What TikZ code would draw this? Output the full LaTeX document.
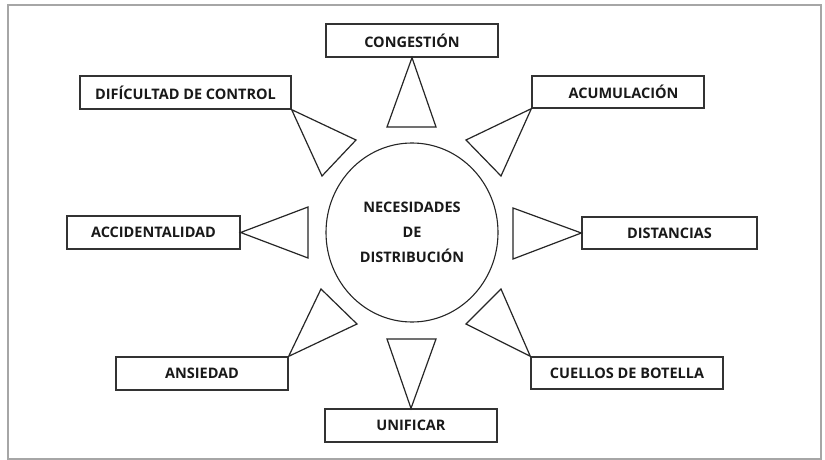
\documentclass[tikz,border=0pt]{standalone}
\usepackage{fontspec}
\setmainfont{Open Sans}
\usetikzlibrary{shapes.geometric}
\begin{document}
\begin{tikzpicture}[x=1pt,y=-1pt,
  lbl/.style={draw=black!80,line width=1.3pt,inner sep=0pt,font=\fontsize{14.5}{17}\selectfont\bfseries,text=black!90},
  tri/.style={draw=black!85,line width=1.2pt,line join=miter},
  hub/.style={draw=black!85,line width=1.1pt,ellipse,inner sep=0pt,align=center,font=\fontsize{14.5}{25}\selectfont\bfseries,text=black!90}]
\useasboundingbox (0,0) rectangle (825,460);
\fill[white] (0,0) rectangle (825,460);
\draw[black!35,line width=1.5pt] (8,5) rectangle (821,459);
% boxes
\node[lbl,minimum width=172pt,minimum height=33pt] (cong) at (412,40.5) {CONGESTIÓN};
\node[lbl,minimum width=211pt,minimum height=33pt] (dif) at (185.5,92.5) {DIFÍCULTAD DE CONTROL};
\node[lbl,minimum width=172pt,minimum height=32pt] (acu) at (618,92) {\hspace*{11pt}ACUMULACIÓN};
\node[lbl,minimum width=173pt,minimum height=33pt] (acc) at (153.5,232.5) {ACCIDENTALIDAD};
\node[lbl,minimum width=175pt,minimum height=32pt] (dis) at (669.5,233) {DISTANCIAS};
\node[lbl,minimum width=172pt,minimum height=33pt] (ans) at (202,373.5) {ANSIEDAD};
\node[lbl,minimum width=172pt,minimum height=33pt] (uni) at (411,425.5) {UNIFICAR};
\node[lbl,minimum width=192pt,minimum height=32pt] (cue) at (627,373) {CUELLOS DE BOTELLA};
% hub
\node[hub,minimum width=172pt,minimum height=179pt] (hub) at (412,232.5) {NECESIDADES\\DE\\DISTRIBUCIÓN};
% triangles
\coordinate (t1a) at (387,127); \coordinate (t1b) at (436,127);
\draw[tri] (cong.south) -- (t1a) -- (t1b) -- cycle;
\coordinate (t2a) at (387,339); \coordinate (t2b) at (436,339);
\draw[tri] (uni.north) -- (t2a) -- (t2b) -- cycle;
\coordinate (t3a) at (308,207); \coordinate (t3b) at (308,258);
\draw[tri] (acc.east) -- (t3a) -- (t3b) -- cycle;
\coordinate (t4a) at (513,208); \coordinate (t4b) at (513,259);
\draw[tri] (dis.west) -- (t4a) -- (t4b) -- cycle;
\coordinate (t5a) at (356,140); \coordinate (t5b) at (322,176);
\draw[tri] (dif.south east) -- (t5a) -- (t5b) -- cycle;
\coordinate (t6a) at (466,140); \coordinate (t6b) at (501,176);
\draw[tri] (acu.south west) -- (t6a) -- (t6b) -- cycle;
\coordinate (t7a) at (321,289); \coordinate (t7b) at (357,324);
\draw[tri] (ans.north east) -- (t7a) -- (t7b) -- cycle;
\coordinate (t8a) at (501,289); \coordinate (t8b) at (466,324);
\draw[tri] (cue.north west) -- (t8a) -- (t8b) -- cycle;
\end{tikzpicture}
\end{document}
